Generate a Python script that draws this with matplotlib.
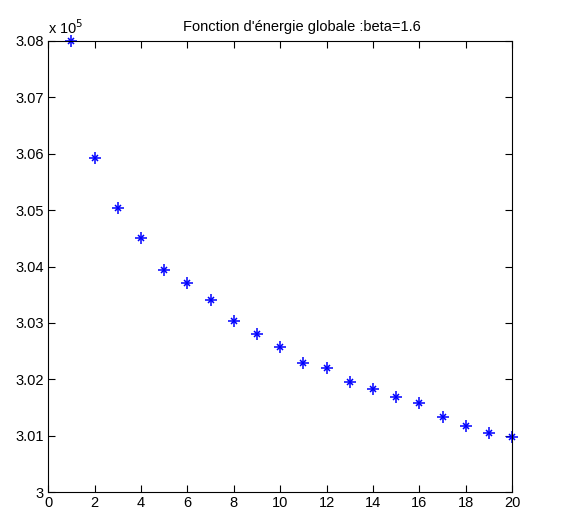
import matplotlib
matplotlib.use("Agg")
import matplotlib.pyplot as plt
from matplotlib.ticker import FuncFormatter, MultipleLocator

plt.rcParams['font.family'] = ['Liberation Sans', 'DejaVu Sans']

# iteration number and global energy
iters = list(range(1, 21))
energy = [308000, 305920, 305040, 304500, 303940, 303710, 303400, 303030,
          302800, 302570, 302290, 302200, 301950, 301830, 301680, 301580,
          301330, 301170, 301050, 300980]

fig = plt.figure(figsize=(5.8, 5.18), dpi=100)
ax = fig.add_axes([0.083, 0.050, 0.800, 0.871])

# matlab-like asterisk: a plus with a smaller cross on top
ax.plot(iters, energy, '+', color='blue', markersize=9, markeredgewidth=1.1, clip_on=False)
ax.plot(iters, energy, 'x', color='blue', markersize=5, markeredgewidth=1.1, clip_on=False)

ax.set_xlim(0, 20)
ax.set_ylim(300000, 308000)
ax.xaxis.set_major_locator(MultipleLocator(2))
ax.yaxis.set_major_locator(MultipleLocator(1000))

def fmt(v, pos):
    s = "%.2f" % (v / 1e5)
    if s.endswith(".00"):
        s = s[:-3]
    return s

ax.yaxis.set_major_formatter(FuncFormatter(fmt))
ax.tick_params(direction='in', top=True, right=True, labelsize=10.5, length=5, width=0.8, pad=3)
for sp in ax.spines.values():
    sp.set_linewidth(0.8)

ax.set_title("Fonction d'énergie globale :beta=1.6", fontsize=10.5, pad=7, x=0.547)
ax.text(0.0, 1.008, r"x 10$^5$", transform=ax.transAxes, fontsize=10.5, ha='left', va='bottom')

fig.savefig("out.png", dpi=100)
